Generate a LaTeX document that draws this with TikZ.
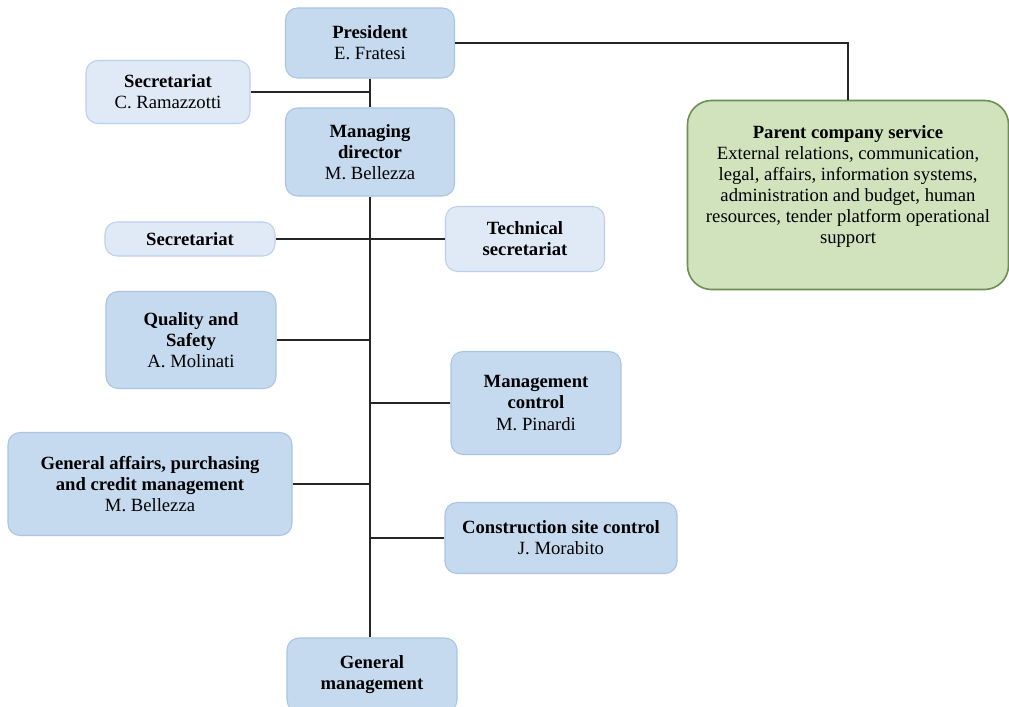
\documentclass[tikz,border=0pt]{standalone}
\usepackage{fontspec}
\setmainfont{Liberation Serif}
\usepackage{xcolor}
\usetikzlibrary{positioning}

\definecolor{boxblue}{HTML}{C5D9EF}
\definecolor{boxline}{HTML}{A9C4E4}
\definecolor{paleblue}{HTML}{DFEAF6}
\definecolor{paleline}{HTML}{BBD0EA}
\definecolor{parentgreen}{HTML}{D0E3BD}
\definecolor{parentline}{HTML}{6D8E55}

\tikzset{
  unit/.style={draw=boxline, fill=boxblue, rounded corners=9pt, align=center,
    font=\fontsize{14}{15.8}\selectfont, inner sep=2pt, line width=0.8pt},
  staff/.style={unit, draw=paleline, fill=paleblue},
  size/.style 2 args={minimum width=#1*0.75pt, minimum height=#2*0.75pt},
  link/.style={line width=1.1pt, black!85},
}

\begin{document}
\begin{tikzpicture}[x=0.75pt, y=-0.75pt]
            \useasboundingbox (0,0) rectangle (1009,706);
            \node [unit, size={169}{70}] (president) at (370,43) {\textbf{President}\\E. Fratesi};
            \node [staff, size={164}{63}] (secr1) at (168,92) {\textbf{Secretariat}\\C. Ramazzotti};
            \node [unit, size={169}{88}] (director) at (370,152) {\textbf{Managing}\\\textbf{director}\\M. Bellezza};
            \node [staff, size={170}{34}] (secr2) at (190,239) {\textbf{Secretariat}};
            \node [staff, size={159}{65}] (techsecr) at (525,239) {\textbf{Technical}\\\textbf{secretariat}};
            \node [unit, size={170}{97}] (quality) at (191,340) {\textbf{Quality and}\\\textbf{Safety}\\A. Molinati};
            \node [unit, size={170}{103}] (control) at (536,403) {\textbf{Management}\\\textbf{control}\\M. Pinardi};
            \node [unit, size={284}{103}] (affairs) at (150,484) {\textbf{General affairs, purchasing}\\\textbf{and credit management}\\M. Bellezza};
            \node [unit, size={232}{71}] (site) at (561,538) {\textbf{Construction site control}\\J. Morabito};
            \node [unit, size={170}{74}] (genmgmt) at (372,675) {\textbf{General}\\\textbf{management}};
            \node [unit, draw=parentline, fill=parentgreen, rounded corners=18pt, line width=1.2pt,
                   size={321}{189}] (parent) at (848,195)
                  {\textbf{Parent company service}\\External relations, communication,\\legal, affairs, information systems,\\administration and budget, human\\resources, tender platform operational\\support\\~};
            % connectors
            \draw [link] (president.south) -- (director.north);
            \draw [link] (secr1.east) -- (secr1.east -| president.south);
            \draw [link] (director.south) -- (director.south |- genmgmt.north);
            \draw [link] (secr2.east) -- (techsecr.west);
            \draw [link] (quality.east) -- (quality.east -| director.south);
            \draw [link] (control.west) -- (control.west -| director.south);
            \draw [link] (affairs.east) -- (affairs.east -| director.south);
            \draw [link] (site.west) -- (site.west -| director.south);
            \draw [link] (president.east) -| (parent.north);
\end{tikzpicture}
\end{document}
